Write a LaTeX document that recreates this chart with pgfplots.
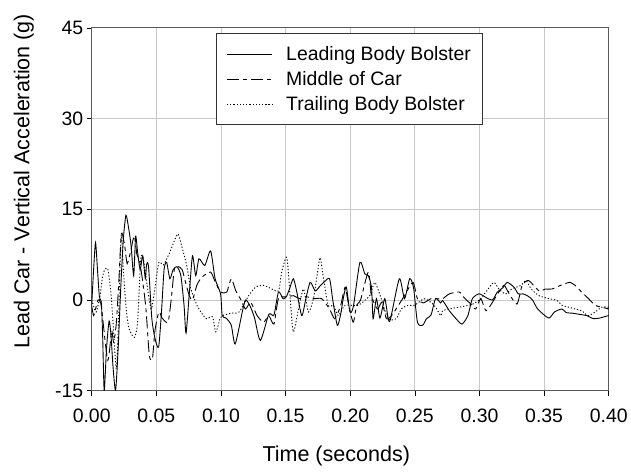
\documentclass[border=0pt]{standalone}
\usepackage{fontspec}
\setmainfont{Liberation Sans}
\usepackage{pgfplots}
\pgfplotsset{compat=1.18}
\begin{document}
\begin{tikzpicture}
\begin{axis}[
  scale only axis, width=519pt, height=364pt,
  xmin=0, xmax=0.40, ymin=-15, ymax=45,
  xtick={0,0.05,0.10,0.15,0.20,0.25,0.30,0.35,0.40},
  xticklabels={0.00,0.05,0.10,0.15,0.20,0.25,0.30,0.35,0.40},
  ytick={-15,0,15,30,45}, yticklabels={-15,0,15,30,45},
  tick align=outside, xtick pos=bottom, ytick pos=left,
  major tick length=5pt, tick style={black, line width=0.6pt},
  grid=major, grid style={black!22, line width=0.8pt},
  axis line style={black!65, line width=1pt},
  ticklabel style={font=\fontsize{19.5}{23}\selectfont},
  xticklabel style={yshift=-10pt},
  label style={font=\fontsize{21.6}{26}\selectfont},
  xlabel={Time (seconds)}, ylabel={Lead Car - Vertical Acceleration (g)},
  xlabel style={at={(axis description cs:0.473,-0.18)}, anchor=center},
  ylabel style={at={(axis description cs:-0.131,0.577)}, anchor=center},
  legend style={at={(axis description cs:0.241,0.986)}, anchor=north west,
    draw=black!80, line width=0.8pt, fill=white,
    font=\fontsize{19.5}{23}\selectfont, inner xsep=10pt, inner ysep=8pt,
    row sep=0pt, column sep=12pt, nodes={inner ysep=4.8pt}},
  legend cell align=left,
  legend image code/.code={\draw[#1, line width=0.8pt] (0pt,0pt) -- (45pt,0pt);},
  every axis plot/.append style={black, line width=0.9pt, smooth, tension=0.4},
]
% Leading Body Bolster
\addplot[black, solid, no marks] coordinates {
(0.000,-1) (0.0015,5) (0.003,9.5) (0.0045,5) (0.006,0.5) (0.0075,-0.5) (0.0085,-6)
(0.0097,-15) (0.0115,-8) (0.0135,-3.5) (0.015,-6) (0.0165,-11) (0.0185,-15)
(0.0205,-8) (0.0225,2) (0.0245,10) (0.0265,14) (0.0285,12) (0.0305,9) (0.0325,4)
(0.034,10.5) (0.0355,8) (0.0375,5) (0.0395,7.3) (0.0415,3.5) (0.0425,5.9) (0.044,5.5)
(0.0465,-3) (0.049,-6.4) (0.0518,-7.8) (0.054,-2) (0.056,5) (0.058,6.2) (0.0605,3.5)
(0.063,5) (0.066,5.5) (0.069,4) (0.0715,-1) (0.073,-5.5) (0.0755,1) (0.078,7.3)
(0.0805,4) (0.083,6.8) (0.0875,5.7) (0.092,8.1) (0.0955,3.5) (0.0997,1) (0.101,-2.6)
(0.104,-3) (0.108,-4.2) (0.111,-7.3) (0.1165,-2) (0.119,0) (0.1225,-1) (0.126,-3)
(0.1305,-6.7) (0.137,-2.4) (0.141,-2.5) (0.1445,1.3) (0.148,0.2) (0.1505,0.5)
(0.153,1.8) (0.156,3.5) (0.1585,1.5) (0.1625,-2.6) (0.1655,0) (0.169,2.9) (0.173,1.5)
(0.177,2.4) (0.180,3) (0.184,3.5) (0.1865,0) (0.190,-4.2) (0.1925,-2.5) (0.1946,0.2)
(0.197,2.1) (0.1998,-2) (0.2025,-1) (0.2075,6.2) (0.2113,4.3) (0.214,4) (0.2165,2)
(0.2177,-3.1) (0.2203,0.2) (0.223,-3) (0.2267,0.2) (0.2292,-2.9) (0.231,-3.3)
(0.238,3.5) (0.242,0.2) (0.246,3.5) (0.249,2) (0.252,-3.7) (0.256,-4.2) (0.259,-3.1)
(0.2625,-2.5) (0.266,0.2) (0.270,-0.5) (0.2715,-0.1) (0.2767,-1.8) (0.2818,-3.1)
(0.2865,-4) (0.291,-2.6) (0.2945,0.2) (0.2997,1) (0.305,0.4) (0.310,0) (0.3138,1.3)
(0.318,2) (0.3215,2.9) (0.3267,2.1) (0.330,1) (0.3335,1) (0.337,0.7) (0.341,0)
(0.345,-1.5) (0.3535,-3) (0.358,-2) (0.3638,-1.5) (0.367,-2.1) (0.372,-2.2)
(0.3775,-2.4) (0.383,-2.6) (0.388,-3.1) (0.393,-3) (0.398,-2.7) (0.400,-2.6)
};
% Middle of Car
\addplot[black, no marks, dash pattern=on 12pt off 4pt on 4pt off 4pt] coordinates {
(0.000,-1) (0.0015,-2.6) (0.003,-1.5) (0.005,0) (0.007,-0.5) (0.0085,-3) (0.0105,-7)
(0.0125,-10) (0.014,-8) (0.0155,-5) (0.017,-7) (0.019,-4) (0.021,3) (0.023,11)
(0.0255,9) (0.0275,6) (0.0305,8.4) (0.033,10.6) (0.035,7.5) (0.037,6.5) (0.0395,3)
(0.042,-1.5) (0.0446,-9.2) (0.047,-9.7) (0.049,-5) (0.052,-2) (0.0545,-3) (0.059,-3.7)
(0.0615,0) (0.064,5.1) (0.067,5.5) (0.070,5) (0.0725,3) (0.0755,0.7) (0.078,0)
(0.0815,2.5) (0.0855,3.8) (0.092,4.6) (0.0955,3) (0.0997,1.3) (0.1045,1.3) (0.108,3.5)
(0.1115,1.5) (0.115,0.2) (0.119,-1.5) (0.123,-0.4) (0.128,-2.6) (0.133,-3.7)
(0.137,-2.6) (0.141,-4) (0.1445,0.2) (0.151,0.5) (0.156,0.7) (0.161,0.2) (0.1666,0.5)
(0.172,0.2) (0.178,0.2) (0.184,-1.5) (0.188,-3.1) (0.1925,-1) (0.196,2.1) (0.1985,-0.5)
(0.2023,-3.7) (0.2049,-0.9) (0.208,0) (0.214,4.6) (0.2164,0.7) (0.221,-1.5)
(0.2245,-0.4) (0.228,-3.1) (0.232,-2.6) (0.237,-1) (0.242,0.7) (0.2485,2.9) (0.252,0.2)
(0.2565,-0.5) (0.2625,0.2) (0.267,0.2) (0.2715,0.2) (0.2767,1) (0.2844,1.3)
(0.288,0.4) (0.2933,-0.7) (0.297,-1.5) (0.301,0.2) (0.305,-1.8) (0.310,-0.4)
(0.315,1.3) (0.319,2.4) (0.323,1) (0.329,-0.7) (0.333,2.4) (0.338,3.2) (0.346,1.5)
(0.351,1.8) (0.356,1.8) (0.3626,2.4) (0.3664,2.7) (0.370,2.9) (0.374,2.4) (0.379,1.3)
(0.3844,0.2) (0.3895,-0.9) (0.3946,-1.2) (0.400,-1.5)
};
% Trailing Body Bolster
\addplot[black, no marks, dash pattern=on 1.2pt off 2pt] coordinates {
(0.000,0) (0.0015,-1) (0.0035,-2) (0.0065,0.7) (0.0085,4) (0.0105,5.1) (0.0125,5.1)
(0.0145,2) (0.016,-2) (0.019,-11.4) (0.0205,-5) (0.0228,10.6) (0.0245,5) (0.0267,-1.5)
(0.029,-4.8) (0.033,-6.2) (0.0355,-3.7) (0.038,6.8) (0.040,6.8) (0.0425,3)
(0.046,-1.5) (0.049,2) (0.052,6.2) (0.0555,5.8) (0.0605,7.9) (0.0665,10.9) (0.0695,9)
(0.0735,5.7) (0.0765,2) (0.0805,-0.4) (0.083,-1.5) (0.0885,-3.1) (0.0935,-2.8)
(0.096,-5.3) (0.0995,-3) (0.101,-2.6) (0.108,-2.2) (0.114,-2) (0.1215,0.7)
(0.1267,2.1) (0.133,2.4) (0.1395,1.8) (0.1446,1.5) (0.147,4.6) (0.151,7) (0.1536,0.2)
(0.156,-5.3) (0.160,-1.5) (0.1638,1.8) (0.1677,-2) (0.1715,0.2) (0.174,3.5) (0.1767,7)
(0.179,4) (0.183,-0.9) (0.187,-0.9) (0.1908,-2.6) (0.196,-0.9) (0.206,-0.9)
(0.215,0.7) (0.219,2.9) (0.224,0.2) (0.2292,-3.1) (0.2356,-3.1) (0.2395,-1.5)
(0.2446,-0.9) (0.2497,-0.9) (0.2574,0.2) (0.265,-0.9) (0.270,-2.6) (0.2715,-1.8)
(0.279,-1.4) (0.287,-1.1) (0.2946,-0.7) (0.300,0) (0.305,1.3) (0.311,2.9) (0.315,1.8)
(0.320,1) (0.325,1.8) (0.332,2.4) (0.336,3.2) (0.340,1.8) (0.346,0.7) (0.354,0.2)
(0.360,-0.1) (0.364,-0.9) (0.369,-1.2) (0.374,-1.5) (0.379,-1.8) (0.384,-2.6)
(0.3895,-2) (0.3946,-1.2) (0.400,-1.2)
};
\legend{Leading Body Bolster, Middle of Car, Trailing Body Bolster}
\end{axis}
\useasboundingbox (-92pt,-81pt) rectangle (539pt,392pt);
\end{tikzpicture}
\end{document}
